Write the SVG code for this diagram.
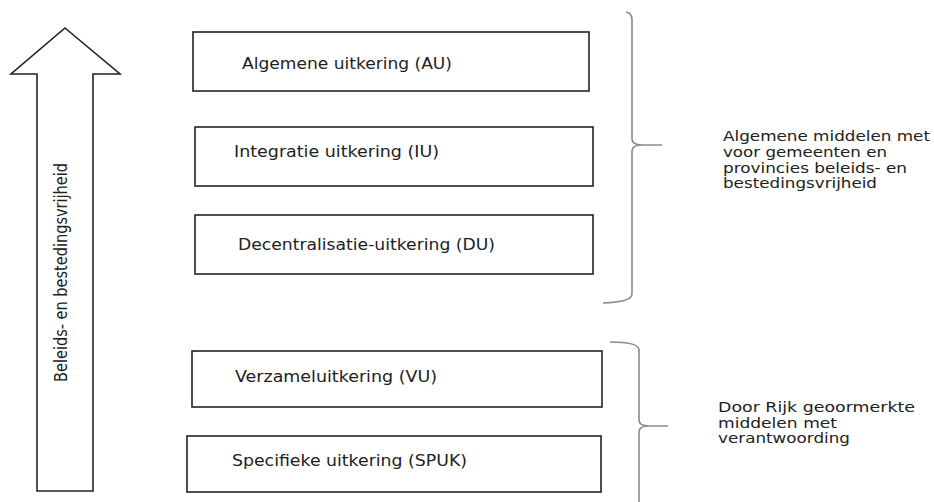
<svg xmlns="http://www.w3.org/2000/svg" width="934" height="502" viewBox="0 0 934 502">
<style>
.box{fill:#fff;stroke:#222;stroke-width:1.6}
.lbl{font-family:"DejaVu Sans",Verdana,sans-serif;font-size:15px;fill:#222}
.side{font-family:"DejaVu Sans",Verdana,sans-serif;font-size:14px;fill:#222}
.brace{fill:none;stroke:#8a8a8a;stroke-width:1.6}
.arrow{fill:#fff;stroke:#222;stroke-width:1.6;stroke-linejoin:miter}
.vert{font-family:"DejaVu Sans Condensed","Liberation Sans Narrow",sans-serif;font-size:17px;fill:#222}
</style>
<rect width="934" height="502" fill="#fff"/>
<g id="arrow">
<polygon class="arrow" points="65,28 120,74 93,74 93,491 37,491 37,74 11,74"/>
<text class="vert" transform="translate(67,272.5) rotate(-90)" text-anchor="middle" textLength="219" lengthAdjust="spacingAndGlyphs">Beleids- en bestedingsvrijheid</text>
</g>
<g id="au">
<rect class="box" x="193" y="32" width="396" height="59"/>
<text class="lbl" x="242" y="69" textLength="210" lengthAdjust="spacingAndGlyphs">Algemene uitkering (AU)</text>
</g>
<g id="iu">
<rect class="box" x="195" y="127" width="398" height="59"/>
<text class="lbl" x="234" y="157" textLength="205" lengthAdjust="spacingAndGlyphs">Integratie uitkering (IU)</text>
</g>
<g id="du">
<rect class="box" x="195" y="215" width="398" height="59"/>
<text class="lbl" x="238" y="250" textLength="257" lengthAdjust="spacingAndGlyphs">Decentralisatie-uitkering (DU)</text>
</g>
<g id="vu">
<rect class="box" x="192" y="351" width="410" height="56"/>
<text class="lbl" x="235" y="382" textLength="202" lengthAdjust="spacingAndGlyphs">Verzameluitkering (VU)</text>
</g>
<g id="spuk">
<rect class="box" x="187" y="436" width="414" height="56"/>
<text class="lbl" x="232" y="466" textLength="235" lengthAdjust="spacingAndGlyphs">Specifieke uitkering (SPUK)</text>
</g>
<g id="connectors">
<path class="brace" d="M626,12 Q632,13 632,20 L632,139 Q632,145 642,145 L662,145 M642,145 Q632,145 632,151 L632,294 Q632,302 603,303"/>
<path class="brace" d="M610,342 Q639,342 639,350 L639,420 Q639,426 649,426 L668,426 M649,426 Q639,426 639,432 L639,502"/>
</g>
<g id="group-general">
<text class="side" x="723" y="141" textLength="207" lengthAdjust="spacingAndGlyphs">Algemene middelen met</text>
<text class="side" x="723" y="157" textLength="164" lengthAdjust="spacingAndGlyphs">voor gemeenten en</text>
<text class="side" x="723" y="173" textLength="184" lengthAdjust="spacingAndGlyphs">provincies beleids- en</text>
<text class="side" x="723" y="188" textLength="154" lengthAdjust="spacingAndGlyphs">bestedingsvrijheid</text>
</g>
<g id="group-earmarked">
<text class="side" x="718" y="412" textLength="197" lengthAdjust="spacingAndGlyphs">Door Rijk geoormerkte</text>
<text class="side" x="718" y="428" textLength="119" lengthAdjust="spacingAndGlyphs">middelen met</text>
<text class="side" x="718" y="443" textLength="132" lengthAdjust="spacingAndGlyphs">verantwoording</text>
</g>
</svg>
